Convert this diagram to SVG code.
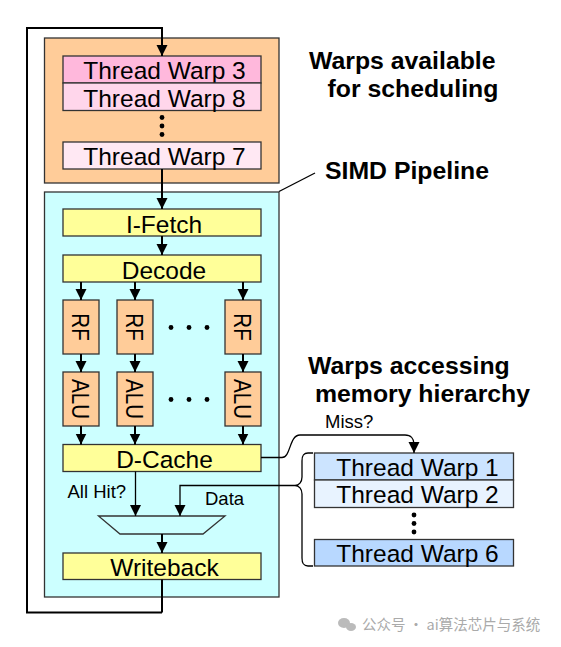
<svg xmlns="http://www.w3.org/2000/svg" width="561" height="647" viewBox="0 0 561 647">
<style>
.box{stroke:#333;stroke-width:1.3}
.t{font-family:"Liberation Sans",Arial,sans-serif;font-size:24.5px;fill:#000;text-anchor:middle}
.h{font-family:"Liberation Sans",Arial,sans-serif;font-size:24.8px;font-weight:bold;fill:#000}
.s{font-family:"Liberation Sans",Arial,sans-serif;font-size:18.5px;fill:#000}
.ln{fill:none;stroke:#000;stroke-width:2}
.ln1{fill:none;stroke:#000;stroke-width:1.3}
.or{fill:#FFCC99}
.ye{fill:#FFFF99}
</style>
<defs>
<marker id="ah" markerUnits="userSpaceOnUse" markerWidth="12" markerHeight="12" refX="11" refY="6" orient="auto">
<path d="M0,0.5 L11,6 L0,11.5 z" fill="#000"/>
</marker>
</defs>
<rect width="561" height="647" fill="#fff"/>

<g id="sched-area">
<rect class="box or" x="44.5" y="38" width="234.5" height="145"/>
</g>
<g id="pipeline-area">
<rect class="box" fill="#CCFFFF" x="44.5" y="192" width="234.5" height="405"/>
</g>

<g id="warp3"><rect class="box" fill="#FFB8DC" x="63" y="56" width="198" height="27"/><text class="t" x="164.5" y="79">Thread Warp 3</text></g>
<g id="warp8"><rect class="box" fill="#FFD6EB" x="63" y="83" width="198" height="27.5"/><text class="t" x="164.5" y="106.5">Thread Warp 8</text></g>
<g id="dots1" fill="#000"><circle cx="162" cy="117.5" r="2.4"/><circle cx="162" cy="126" r="2.4"/><circle cx="162" cy="134.5" r="2.4"/></g>
<g id="warp7"><rect class="box" fill="#FFE8F3" x="63" y="142" width="198" height="27"/><text class="t" x="164.5" y="165">Thread Warp 7</text></g>

<g id="ifetch"><rect class="box ye" x="63" y="209" width="198" height="27"/><text class="t" x="164" y="232.5">I-Fetch</text></g>
<g id="decode"><rect class="box ye" x="63" y="255" width="198" height="27"/><text class="t" x="164" y="278.5">Decode</text></g>

<g id="rf1"><rect class="box or" x="63" y="300" width="36" height="54"/><text class="t" transform="translate(81,327) rotate(90) scale(0.84,1)" x="0" y="8.7">RF</text></g>
<g id="rf2"><rect class="box or" x="117" y="300" width="36" height="54"/><text class="t" transform="translate(135,327) rotate(90) scale(0.84,1)" x="0" y="8.7">RF</text></g>
<g id="rf3"><rect class="box or" x="225" y="300" width="36" height="54"/><text class="t" transform="translate(243,327) rotate(90) scale(0.84,1)" x="0" y="8.7">RF</text></g>
<g id="dots2" fill="#000"><circle cx="171" cy="327.5" r="2.4"/><circle cx="189" cy="327.5" r="2.4"/><circle cx="207" cy="327.5" r="2.4"/></g>

<g id="alu1"><rect class="box or" x="63" y="372" width="36" height="54"/><text class="t" transform="translate(81,399) rotate(90) scale(0.84,1)" x="0" y="8.7">ALU</text></g>
<g id="alu2"><rect class="box or" x="117" y="372" width="36" height="54"/><text class="t" transform="translate(135,399) rotate(90) scale(0.84,1)" x="0" y="8.7">ALU</text></g>
<g id="alu3"><rect class="box or" x="225" y="372" width="36" height="54"/><text class="t" transform="translate(243,399) rotate(90) scale(0.84,1)" x="0" y="8.7">ALU</text></g>
<g id="dots3" fill="#000"><circle cx="171" cy="399.5" r="2.4"/><circle cx="189" cy="399.5" r="2.4"/><circle cx="207" cy="399.5" r="2.4"/></g>

<g id="dcache"><rect class="box ye" x="63" y="444.5" width="198" height="27"/><text class="t" x="164.5" y="467.5">D-Cache</text></g>
<g id="mux"><path class="box" fill="#CCFFFF" d="M98.5,516 H225 L203,534 H120 Z"/></g>
<g id="writeback"><rect class="box ye" x="63" y="553" width="198" height="26.5"/><text class="t" x="164.5" y="575.5">Writeback</text></g>

<g id="warp1"><rect class="box" fill="#CCE4FF" x="314.5" y="453" width="199" height="27"/><text class="t" x="417.5" y="475.5">Thread Warp 1</text></g>
<g id="warp2"><rect class="box" fill="#E8F3FF" x="314.5" y="480" width="199" height="27.5"/><text class="t" x="417.5" y="503">Thread Warp 2</text></g>
<g id="dots4" fill="#000"><circle cx="414" cy="515" r="2.4"/><circle cx="414" cy="523.5" r="2.4"/><circle cx="414" cy="532" r="2.4"/></g>
<g id="warp6"><rect class="box" fill="#B8D8FF" x="314.5" y="539.5" width="199" height="26.5"/><text class="t" x="417.5" y="561.5">Thread Warp 6</text></g>

<g id="labels">
<text class="h" x="309" y="69">Warps available</text>
<text class="h" x="327.5" y="97">for scheduling</text>
<text class="h" x="325" y="178.5">SIMD Pipeline</text>
<text class="h" x="308" y="374">Warps accessing</text>
<text class="h" x="315" y="402">memory hierarchy</text>
<text class="s" x="325" y="428">Miss?</text>
<text class="s" x="67.5" y="497.5">All Hit?</text>
<text class="s" x="205" y="505">Data</text>
</g>

<g id="connectors">
<path class="ln" d="M162,612.5 V579.5"/>
<path class="ln" d="M162,612.5 H27 V28 H162 V56" marker-end="url(#ah)"/>
<path class="ln" d="M162,169 V209" marker-end="url(#ah)"/>
<path class="ln" d="M162,236 V255" marker-end="url(#ah)"/>
<path class="ln" d="M81,282 V300" marker-end="url(#ah)"/>
<path class="ln" d="M135,282 V300" marker-end="url(#ah)"/>
<path class="ln" d="M243,282 V300" marker-end="url(#ah)"/>
<path class="ln" d="M81,354 V372" marker-end="url(#ah)"/>
<path class="ln" d="M135,354 V372" marker-end="url(#ah)"/>
<path class="ln" d="M243,354 V372" marker-end="url(#ah)"/>
<path class="ln" d="M81,426 V444.5" marker-end="url(#ah)"/>
<path class="ln" d="M135,426 V444.5" marker-end="url(#ah)"/>
<path class="ln" d="M243,426 V444.5" marker-end="url(#ah)"/>
<path class="ln1" d="M135.5,471.5 V516" marker-end="url(#ah)"/>
<path class="ln" d="M162,534 V553" marker-end="url(#ah)"/>
<path class="ln1" d="M295,485.5 H180 V516" marker-end="url(#ah)"/>
<path class="ln1" d="M261,457.5 H282 C291,457.5 289,435 300,435 H405 C411,435 414,439 414,444 V453" marker-end="url(#ah)"/>
<path class="ln1" d="M313,453 H308 C303,453 302,456 302,461 V477 C302,482 299,485.5 295,485.5 C299,485.5 302,489 302,494 V558 C302,563 303,566 308,566 H313"/>
<path class="ln1" d="M279,191.5 L315,173"/>
</g>

<g id="watermark">
<ellipse cx="344" cy="623" rx="6" ry="5" fill="#bbb"/>
<ellipse cx="351" cy="627" rx="5" ry="4" fill="#bbb"/>
<text x="362" y="630" font-family="'Noto Sans CJK SC',sans-serif" font-size="14.5" fill="#aaa">公众号 · ai算法芯片与系统</text>
</g>
</svg>
